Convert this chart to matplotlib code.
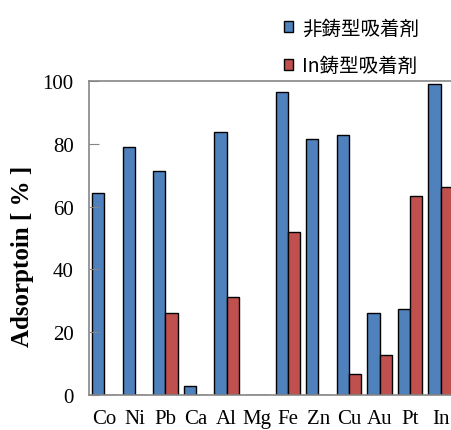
import numpy as np
import matplotlib
matplotlib.use("Agg")
import matplotlib.pyplot as plt

metals = ["Co", "Ni", "Pb", "Ca", "Al", "Mg", "Fe", "Zn", "Cu", "Au", "Pt", "In"]
non_template = [64.2, 79.1, 71.4, 3.0, 83.9, 0.0, 96.6, 81.4, 82.8, 26.1, 27.5, 99.1]
in_template = [0.0, 0.0, 26.1, 0.0, 31.3, 0.0, 51.9, 0.0, 6.6, 12.7, 63.4, 66.2]
labels = ["非鋳型吸着剤", "In鋳型吸着剤"]

fig = plt.figure(figsize=(4.51, 4.31), dpi=100)
# plot area runs slightly past the right edge, like the cropped original
ax = fig.add_axes([89/451, 35/431, 367/451, 314/431])

x = np.arange(len(metals))
w = 0.4
ax.bar(x - w/2, non_template, w, color="#4F81BD", edgecolor="black", linewidth=1, label=labels[0])
ax.bar(x + w/2, in_template, w, color="#C0504D", edgecolor="black", linewidth=1, label=labels[1])

ax.set_xlim(-0.5, len(metals) - 0.5)
ax.set_ylim(0, 100)
ax.set_yticks(np.arange(0, 101, 20))
ax.set_xticks(x)
ax.set_xticklabels(metals)

for s in ["left", "bottom", "top"]:
    ax.spines[s].set_color("#868686")
    ax.spines[s].set_linewidth(1.2)
ax.spines["right"].set_visible(False)

ax.tick_params(axis="y", direction="in", length=7, color="#868686", pad=11)
ax.tick_params(axis="x", length=0, pad=10)
for t in ax.get_xticklabels() + ax.get_yticklabels():
    t.set_family("Liberation Serif")
    t.set_fontsize(15)

fig.text(23/451, 1 - 256/431, "Adsorptoin [ % ]", rotation=90, ha="center", va="center",
         family="Liberation Serif", fontweight="bold", fontsize=18)

leg = fig.legend(loc="upper left", bbox_to_anchor=(266/451, 1 - 1/431), frameon=False,
                 prop={"family": ["Noto Sans CJK JP", "DejaVu Sans"], "size": 14},
                 handlelength=0.5, handleheight=0.5, handletextpad=0.45, labelspacing=0.85)

fig.savefig("out.png", dpi=100)
